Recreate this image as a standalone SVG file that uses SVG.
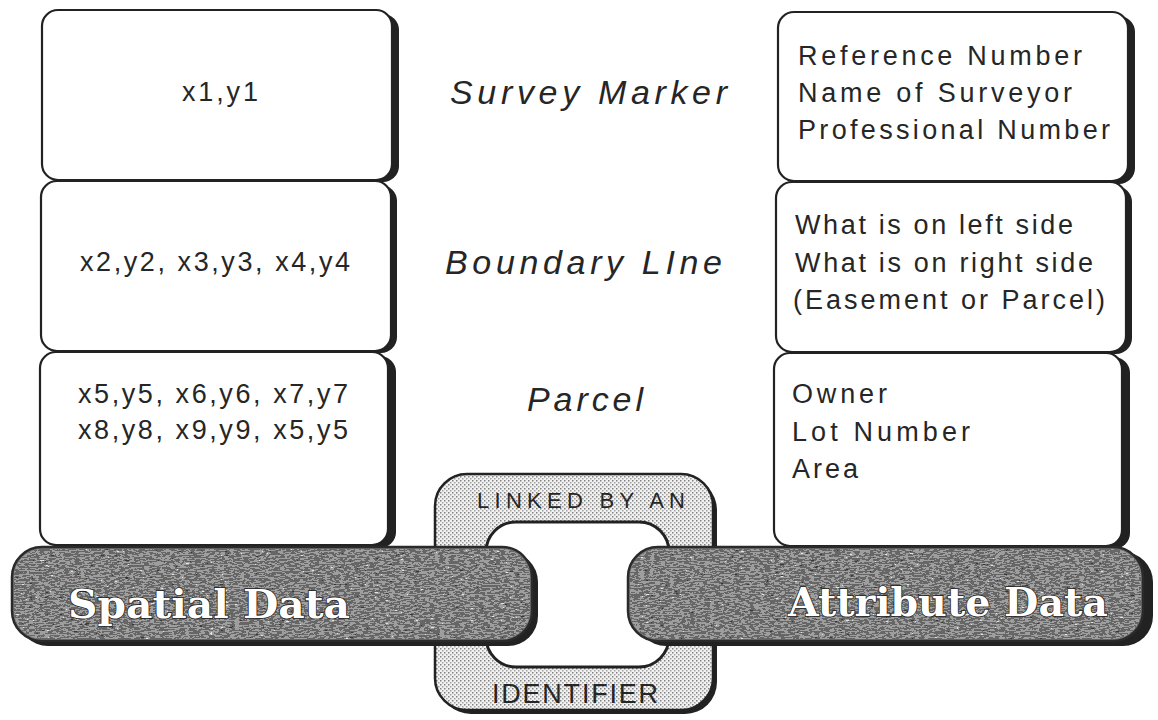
<svg xmlns="http://www.w3.org/2000/svg" width="1158" height="720" viewBox="0 0 1158 720">
<defs>
  <filter id="grain" x="0" y="0" width="1" height="1" color-interpolation-filters="sRGB">
    <feTurbulence type="fractalNoise" baseFrequency="0.2 0.7" numOctaves="2" seed="7" result="t"/>
    <feColorMatrix in="t" type="matrix" values="0.33 0.33 0.33 0 0  0.33 0.33 0.33 0 0  0.33 0.33 0.33 0 0  0 0 0 0 1" result="g"/>
    <feComponentTransfer in="g" result="d">
      <feFuncR type="discrete" tableValues="0.1 0.22 0.4 0.62 0.9 1"/>
      <feFuncG type="discrete" tableValues="0.1 0.22 0.4 0.62 0.9 1"/>
      <feFuncB type="discrete" tableValues="0.1 0.22 0.4 0.62 0.9 1"/>
    </feComponentTransfer>
    <feComposite in="d" in2="SourceGraphic" operator="in"/>
  </filter>
  <pattern id="stipple" width="4" height="4" patternUnits="userSpaceOnUse">
    <rect width="4" height="4" fill="#f2f2f2"/>
    <rect x="0" y="0" width="1.5" height="1.5" fill="#808080"/>
    <rect x="2" y="2" width="1.5" height="1.5" fill="#a0a0a0"/>
  </pattern>
  <style>
    .box { fill: #fff; stroke: #222; stroke-width: 2.2; }
    .shadow { fill: #222; }
    .bar { fill: #777; stroke: #2a2a2a; stroke-width: 2.5; }
    .txt { font-family: "Liberation Sans", Arial, sans-serif; font-size: 27px; fill: #262626; }
    .mid { font-family: "Liberation Sans", Arial, sans-serif; font-size: 34px; font-style: italic; fill: #262626; }
    .big { font-family: "DejaVu Serif", "Liberation Serif", serif; font-weight: bold; font-size: 40px; fill: #fff; stroke: #1e1e1e; stroke-width: 1.6; paint-order: stroke; }
    .link { font-family: "Liberation Sans", Arial, sans-serif; fill: #262626; }
  </style>
</defs>
<rect width="1158" height="720" fill="#fff"/>

<!-- Left (spatial) boxes -->
<g id="spatial-survey-marker">
  <rect class="shadow" x="48" y="14" width="351" height="168" rx="16"/>
  <rect class="box" x="42" y="10" width="350" height="170" rx="16"/>
  <text class="txt" x="182" y="101" textLength="76" lengthAdjust="spacing">x1,y1</text>
</g>
<g id="spatial-boundary-line">
  <rect class="shadow" x="47" y="185" width="350" height="168" rx="16"/>
  <rect class="box" x="41" y="181" width="350" height="170" rx="16"/>
  <text class="txt" x="80" y="271" textLength="270" lengthAdjust="spacing">x2,y2, x3,y3, x4,y4</text>
</g>
<g id="spatial-parcel">
  <rect class="shadow" x="46" y="356" width="350" height="192" rx="16"/>
  <rect class="box" x="40" y="352" width="348" height="193" rx="16"/>
  <text class="txt" x="78" y="403" textLength="270" lengthAdjust="spacing">x5,y5, x6,y6, x7,y7</text>
  <text class="txt" x="78" y="439" textLength="270" lengthAdjust="spacing">x8,y8, x9,y9, x5,y5</text>
</g>

<!-- Middle labels -->
<g id="label-survey-marker"><text class="mid" x="450" y="104" textLength="277" lengthAdjust="spacing">Survey Marker</text></g>
<g id="label-boundary-line"><text class="mid" x="445" y="274" textLength="277" lengthAdjust="spacing">Boundary LIne</text></g>
<g id="label-parcel"><text class="mid" x="527" y="411" textLength="116" lengthAdjust="spacing">Parcel</text></g>

<!-- Right (attribute) boxes -->
<g id="attr-survey-marker">
  <rect class="shadow" x="784" y="16" width="351" height="168" rx="16"/>
  <rect class="box" x="778" y="12" width="350" height="169" rx="16"/>
  <text class="txt" x="798" y="65" textLength="284" lengthAdjust="spacing">Reference Number</text>
  <text class="txt" x="798" y="102" textLength="274" lengthAdjust="spacing">Name of Surveyor</text>
  <text class="txt" x="798" y="139" textLength="312" lengthAdjust="spacing">Professional Number</text>
</g>
<g id="attr-boundary-line">
  <rect class="shadow" x="782" y="186" width="350" height="168" rx="16"/>
  <rect class="box" x="776" y="182" width="350" height="170" rx="16"/>
  <text class="txt" x="795" y="234" textLength="278" lengthAdjust="spacing">What is on left side</text>
  <text class="txt" x="795" y="272" textLength="298" lengthAdjust="spacing">What is on right side</text>
  <text class="txt" x="793" y="309" textLength="312" lengthAdjust="spacing">(Easement or Parcel)</text>
</g>
<g id="attr-parcel">
  <rect class="shadow" x="780" y="357" width="350" height="192" rx="16"/>
  <rect class="box" x="774" y="353" width="348" height="193" rx="16"/>
  <text class="txt" x="792" y="403" textLength="95" lengthAdjust="spacing">Owner</text>
  <text class="txt" x="792" y="441" textLength="178" lengthAdjust="spacing">Lot Number</text>
  <text class="txt" x="792" y="478" textLength="66" lengthAdjust="spacing">Area</text>
</g>

<!-- Link ring connecting the two data bars -->
<g id="connectors">
  <rect class="shadow" x="439" y="478" width="278" height="236" rx="32"/>
  <rect x="435" y="474" width="278" height="236" rx="32" fill="url(#stipple)" stroke="#222" stroke-width="2.5"/>
  <rect x="486" y="522" width="183" height="145" rx="30" fill="#fff" stroke="#222" stroke-width="3"/>
  <text class="link" x="477" y="508" font-size="22" textLength="208" lengthAdjust="spacing">LINKED BY AN</text>
  <text class="link" x="492" y="703" font-size="27" textLength="166" lengthAdjust="spacing">IDENTIFIER</text>
</g>

<!-- Data bars -->
<g id="spatial-data">
  <rect class="shadow" x="18" y="552" width="520" height="94" rx="30"/>
  <rect class="bar" x="12" y="547" width="520" height="94" rx="30"/>
  <rect x="14" y="549" width="516" height="90" rx="28" fill="#fff" filter="url(#grain)"/>
  <text class="big" x="68" y="618" textLength="282" lengthAdjust="spacingAndGlyphs">Spatial Data</text>
</g>
<g id="attribute-data">
  <rect class="shadow" x="636" y="552" width="517" height="94" rx="30"/>
  <rect class="bar" x="628" y="547" width="515" height="94" rx="30"/>
  <rect x="630" y="549" width="511" height="90" rx="28" fill="#fff" filter="url(#grain)"/>
  <text class="big" x="788" y="616" textLength="320" lengthAdjust="spacingAndGlyphs">Attribute Data</text>
</g>
</svg>
